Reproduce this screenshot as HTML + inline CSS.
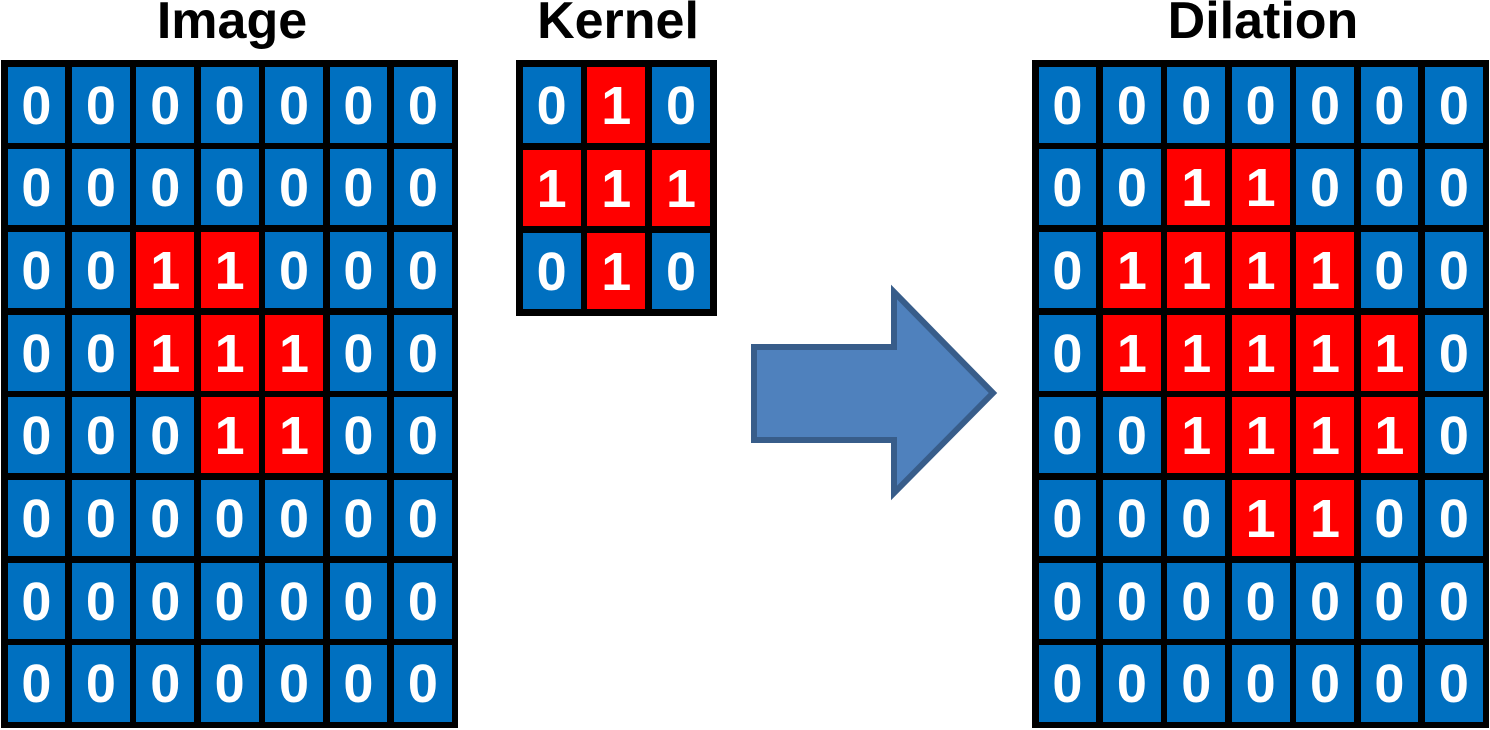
<!DOCTYPE html>
<html><head><meta charset="utf-8">
<style>
html,body{margin:0;padding:0;background:#fff;}
body{width:1490px;height:730px;position:relative;overflow:hidden;font-family:"Liberation Sans",sans-serif;}
.title{position:absolute;top:-9px;font-weight:bold;font-size:52px;color:#000;text-align:center;width:300px;}
.grid{position:absolute;background:#000;}
.cell{position:absolute;color:#fff;font-weight:bold;font-size:54px;display:flex;align-items:center;justify-content:center;padding-top:2px;box-sizing:border-box;}
</style></head>
<body>
<div class="title" style="left:82px">Image</div>
<div class="title" style="left:468px">Kernel</div>
<div class="title" style="left:1113px">Dilation</div>
<div id="g-image" class="grid"></div>
<div id="g-kernel" class="grid"></div>
<div id="g-dil" class="grid"></div>
<svg width="1490" height="730" style="position:absolute;left:0;top:0">
<polygon points="754,347 894,347 894,292 993,393 894,493 894,440 754,440" fill="#4f81bd" stroke="#385d8a" stroke-width="6" stroke-linejoin="miter"/>
</svg>
<script>
const imageData=[
[0,0,0,0,0,0,0],
[0,0,0,0,0,0,0],
[0,0,1,1,0,0,0],
[0,0,1,1,1,0,0],
[0,0,0,1,1,0,0],
[0,0,0,0,0,0,0],
[0,0,0,0,0,0,0],
[0,0,0,0,0,0,0]];
const kernelData=[[0,1,0],[1,1,1],[0,1,0]];
function dilate(img,k){
  const R=img.length,C=img[0].length,kr=(k.length-1)/2,kc=(k[0].length-1)/2;
  return img.map((row,r)=>row.map((_,c)=>{
    for(let i=0;i<k.length;i++)for(let j=0;j<k[0].length;j++){
      if(!k[i][j])continue;const rr=r+i-kr,cc=c+j-kc;
      if(rr>=0&&rr<R&&cc>=0&&cc<C&&img[rr][cc])return 1;}
    return 0;}));
}
const dilationData=dilate(imageData,kernelData);
function draw(id,data,x,y,cw,ch,g,prefix){
  const el=document.getElementById(id);
  const rows=data.length,cols=data[0].length;
  el.style.left=x+'px';el.style.top=y+'px';
  el.style.width=(cols*cw+(cols+1)*g)+'px';
  el.style.height=(rows*ch+(rows+1)*g)+'px';
  data.forEach((row,r)=>row.forEach((v,c)=>{
    const d=document.createElement('div');
    d.className='cell';
    
    
    d.style.left=(g+c*(cw+g))+'px';d.style.top=(g+r*(ch+g))+'px';
    d.style.width=cw+'px';d.style.height=ch+'px';
    d.style.background=v?'#ff0000':'#0070c0';
    d.textContent=v;
    el.appendChild(d);
  }));
}
draw('g-image',imageData,1,60,57.9,76.2,6.5,'image');
draw('g-kernel',kernelData,516,60,58.2,76.5,6.5,'kernel');
draw('g-dil',dilationData,1032,60,57.9,76.2,6.5,'dilation');
</script>
</body></html>
